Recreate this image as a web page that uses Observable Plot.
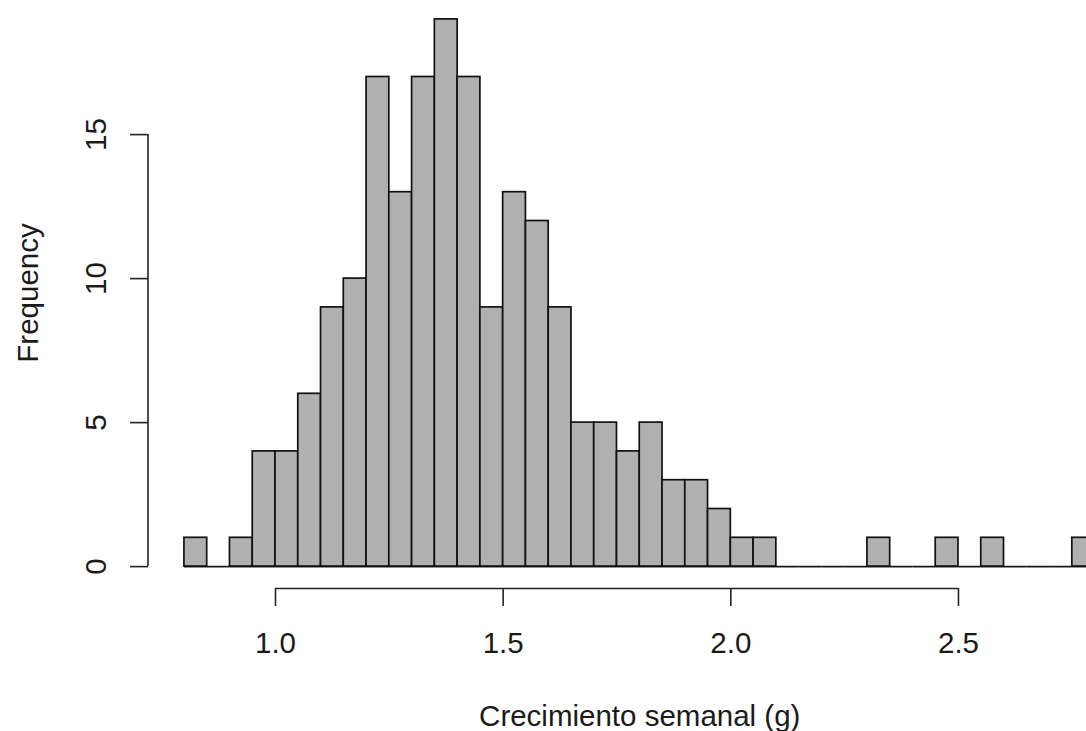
<!DOCTYPE html>
<html>
<head>
<meta charset="utf-8">
<script src="https://cdn.jsdelivr.net/npm/d3@7"></script>
<script src="https://cdn.jsdelivr.net/npm/@observablehq/plot@0.6"></script>
<style>
  html, body { margin: 0; padding: 0; background: #fff; }
  svg { display: block; }
</style>
</head>
<body>
<div id="chart"></div>
<script>
// Histogram bin edges and counts
const breaks = [0.80,0.85,0.90,0.95,1.00,1.05,1.10,1.15,1.20,1.25,1.30,1.35,1.40,1.45,1.50,1.55,1.60,1.65,1.70,1.75,1.80,
                1.85,1.90,1.95,2.00,2.05,2.10,2.15,2.20,2.25,2.30,2.35,2.40,2.45,2.50,2.55,2.60,2.65,2.70,2.75,2.80];
const counts = [1,0,1,4,4,6,9,10,17,13,17,19,17,9,13,12,9,5,5,4,5,3,3,2,1,1,0,0,0,0,1,0,0,1,0,1,0,0,0,1];
const xTicks = [1.0, 1.5, 2.0, 2.5];
const yTicks = [0, 5, 10, 15];
const xLabel = "Crecimiento semanal (g)";
const yLabel = "Frequency";

const bins = counts.map((c, i) => ({lo: breaks[i], hi: breaks[i + 1], count: c}));

// R-style 4% axis extension
const xLo = breaks[0], xHi = breaks[breaks.length - 1];
const xPad = (xHi - xLo) * 0.04;
const xDom = [xLo - xPad, xHi + xPad];
const yMax = d3.max(counts);
const yPad = yMax * 0.04;
const yDom = [-yPad, yMax + yPad];

const font = "'Liberation Sans', Arial, Helvetica, sans-serif";
const ink = "#1a1a1a";
const fs = 29.5;

const chart = Plot.plot({
  width: 1086,
  height: 731,
  marginLeft: 148,
  marginBottom: 143,
  marginTop: 0,
  marginRight: 0,
  style: {fontFamily: font, fontSize: fs + "px", color: ink, background: "#fff"},
  x: {domain: xDom, range: [147.5, 1131], axis: null},
  y: {domain: yDom, range: [588, -3], axis: null},
  marks: [
    Plot.rectY(bins, {x1: "lo", x2: "hi", y1: 0, y2: "count", fill: "#b0b0b0", stroke: "#111", strokeWidth: 1.7}),
    Plot.ruleY(bins, {x1: "lo", x2: "hi", y: 0, stroke: "#111", strokeWidth: 1.7}),
    // axis lines (R style: from first to last tick)
    Plot.ruleY([yDom[0]], {x1: xTicks[0], x2: xTicks[xTicks.length - 1], stroke: "#222", strokeWidth: 1.6}),
    Plot.ruleX([xDom[0]], {y1: yTicks[0], y2: yTicks[yTicks.length - 1], stroke: "#222", strokeWidth: 1.6}),
    Plot.axisX({ticks: xTicks, tickSize: 18, tickPadding: 26, tickFormat: d3.format(".1f"),
                fontSize: fs, stroke: "#222", strokeWidth: 1.6, fill: ink, label: null}),
    Plot.axisY({ticks: yTicks, tickSize: 18, tickPadding: 25, tickRotate: -90, tickFormat: d3.format("d"),
                fontSize: fs, stroke: "#222", strokeWidth: 1.6, fill: ink, label: null}),
    Plot.text([xLabel], {x: (xDom[0] + xDom[1]) / 2, y: yDom[0], dy: 137, lineAnchor: "bottom",
                         textAnchor: "middle", fontSize: fs, fill: ink}),
    Plot.text([yLabel], {x: xDom[0], y: (yDom[0] + yDom[1]) / 2, dx: -110, rotate: -90, lineAnchor: "bottom",
                         textAnchor: "middle", fontSize: fs, fill: ink})
  ]
});
document.getElementById("chart").appendChild(chart);
</script>
</body>
</html>
